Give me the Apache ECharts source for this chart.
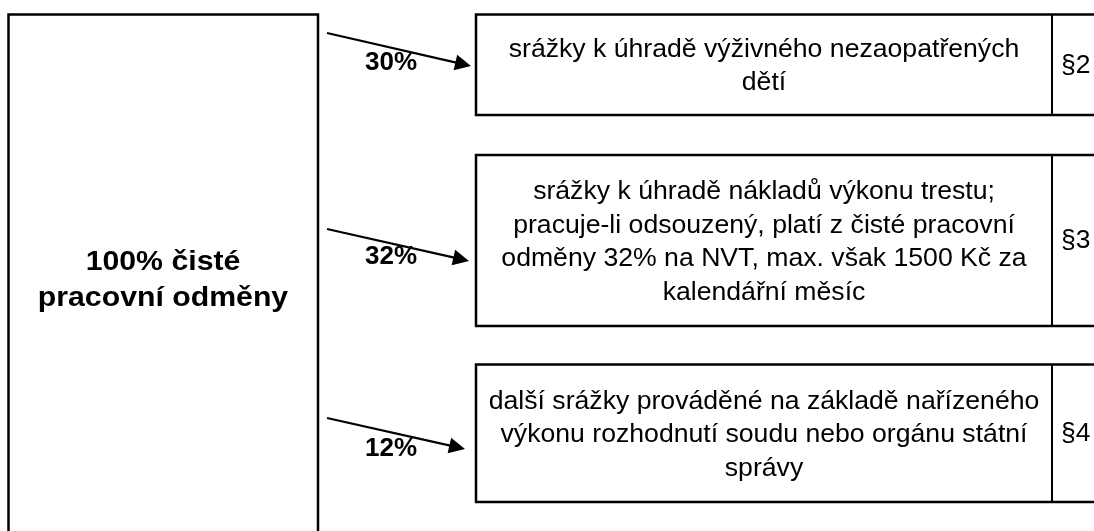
<!DOCTYPE html>
<html>
<head>
<meta charset="utf-8">
<script src="https://cdn.jsdelivr.net/npm/echarts@6/dist/echarts.min.js"></script>
<style>
  html, body { margin: 0; padding: 0; background: #fff; }
  #main { width: 1094px; height: 531px; }
</style>
</head>
<body>
<div id="main"></div>
<script>
// data
const sourceLabel = "100% čisté\npracovní odměny";
const shares = [30, 32, 12];
const deductions = [
  "srážky k úhradě výživného nezaopatřených\ndětí",
  "srážky k úhradě nákladů výkonu trestu;\npracuje-li odsouzený, platí z čisté pracovní\nodměny 32% na NVT, max. však 1500 Kč za\nkalendářní měsíc",
  "další srážky prováděné na základě nařízeného\nvýkonu rozhodnutí soudu nebo orgánu státní\nsprávy"
];
const sections = ["§2", "§3", "§4"];

// layout (pixels of the 1094x531 canvas, mapped through hidden axes)
const boxTop = [14.5, 155, 364.5];
const boxBottom = [115, 326, 502];
const boxLeft = 476;
const boxDivider = 1052;
const arrowStart = [[327, 33], [327, 229], [327, 418]];
const arrowTip = [[471, 66], [469, 261], [465, 449]];
const shareLabelPos = [[391, 62.5], [391, 256.5], [391, 449]];
const FONT = '"Liberation Sans", Arial, sans-serif';

const chartDom = document.getElementById("main");
const myChart = echarts.init(chartDom, null, { renderer: "canvas" });

// source box
const renderSource = function (params, api) {
  const p0 = api.coord([8.5, 14.5]);
  const p1 = api.coord([318, 580]);
  const c = api.coord([163, 280]);
  return {
    type: "group",
    children: [
      {
        type: "rect",
        shape: { x: p0[0], y: p0[1], width: p1[0] - p0[0], height: p1[1] - p0[1] },
        style: { fill: "#fff", stroke: "#000", lineWidth: 2.5 }
      },
      {
        type: "text",
        x: c[0],
        y: c[1],
        scaleX: 1.08,
        style: {
          text: sourceLabel,
          x: 0,
          y: 0,
          align: "center",
          verticalAlign: "middle",
          fontFamily: FONT,
          fontWeight: "bold",
          fontSize: 28,
          lineHeight: 36,
          fill: "#000"
        }
      }
    ]
  };
};

// deduction boxes with arrows
const renderDeduction = function (params, api) {
  const i = api.value(0);
  const share = api.value(1);
  const tl = api.coord([boxLeft, boxTop[i]]);
  const br = api.coord([1120, boxBottom[i]]);
  const d0 = api.coord([boxDivider, boxTop[i]]);
  const d1 = api.coord([boxDivider, boxBottom[i]]);
  const midY = (boxTop[i] + boxBottom[i]) / 2;
  const tc = api.coord([(boxLeft + boxDivider) / 2, midY + 2]);
  const sc = api.coord([1061, midY + 1]);

  const s = api.coord(arrowStart[i]);
  const t = api.coord(arrowTip[i]);
  const dx = t[0] - s[0];
  const dy = t[1] - s[1];
  const len = Math.sqrt(dx * dx + dy * dy);
  const ux = dx / len;
  const uy = dy / len;
  const headLen = 16;
  const headHalf = 8;
  const bx = t[0] - ux * headLen;
  const by = t[1] - uy * headLen;
  const lp = api.coord(shareLabelPos[i]);

  return {
    type: "group",
    children: [
      {
        type: "rect",
        shape: { x: tl[0], y: tl[1], width: br[0] - tl[0], height: br[1] - tl[1] },
        style: { fill: "#fff", stroke: "#000", lineWidth: 2.5 }
      },
      {
        type: "line",
        shape: { x1: d0[0], y1: d0[1], x2: d1[0], y2: d1[1] },
        style: { stroke: "#000", lineWidth: 2 }
      },
      {
        type: "text",
        x: tc[0],
        y: tc[1],
        scaleX: 1.065,
        style: {
          text: deductions[i],
          x: 0,
          y: 0,
          align: "center",
          verticalAlign: "middle",
          fontFamily: FONT,
          fontSize: 25,
          lineHeight: 33.5,
          fill: "#000"
        }
      },
      {
        type: "text",
        x: sc[0],
        y: sc[1],
        scaleX: 1.06,
        style: {
          text: sections[i],
          x: 0,
          y: 0,
          align: "left",
          verticalAlign: "middle",
          fontFamily: FONT,
          fontSize: 25,
          fill: "#000"
        }
      },
      {
        type: "line",
        shape: { x1: s[0], y1: s[1], x2: bx + ux * 2, y2: by + uy * 2 },
        style: { stroke: "#000", lineWidth: 2.2 }
      },
      {
        type: "polygon",
        shape: {
          points: [
            [t[0], t[1]],
            [bx - uy * headHalf, by + ux * headHalf],
            [bx + uy * headHalf, by - ux * headHalf]
          ]
        },
        style: { fill: "#000" }
      },
      {
        type: "text",
        style: {
          text: share + "%",
          x: lp[0],
          y: lp[1],
          align: "center",
          verticalAlign: "middle",
          fontFamily: FONT,
          fontWeight: "bold",
          fontSize: 26,
          fill: "#000"
        }
      }
    ]
  };
};

let option = {
  animation: false,
  backgroundColor: "#fff",
  grid: { left: 0, right: 0, top: 0, bottom: 0 },
  xAxis: { type: "value", min: 0, max: 1094, show: false },
  yAxis: { type: "value", min: 0, max: 531, inverse: true, show: false },
  series: [
    {
      type: "custom",
      name: "source",
      renderItem: renderSource,
      data: [[0, 100]],
      silent: true
    },
    {
      type: "custom",
      name: "deductions",
      renderItem: renderDeduction,
      data: shares.map(function (v, i) {
        return [i, v];
      }),
      silent: true
    }
  ]
};
myChart.setOption(option);
</script>
</body>
</html>
